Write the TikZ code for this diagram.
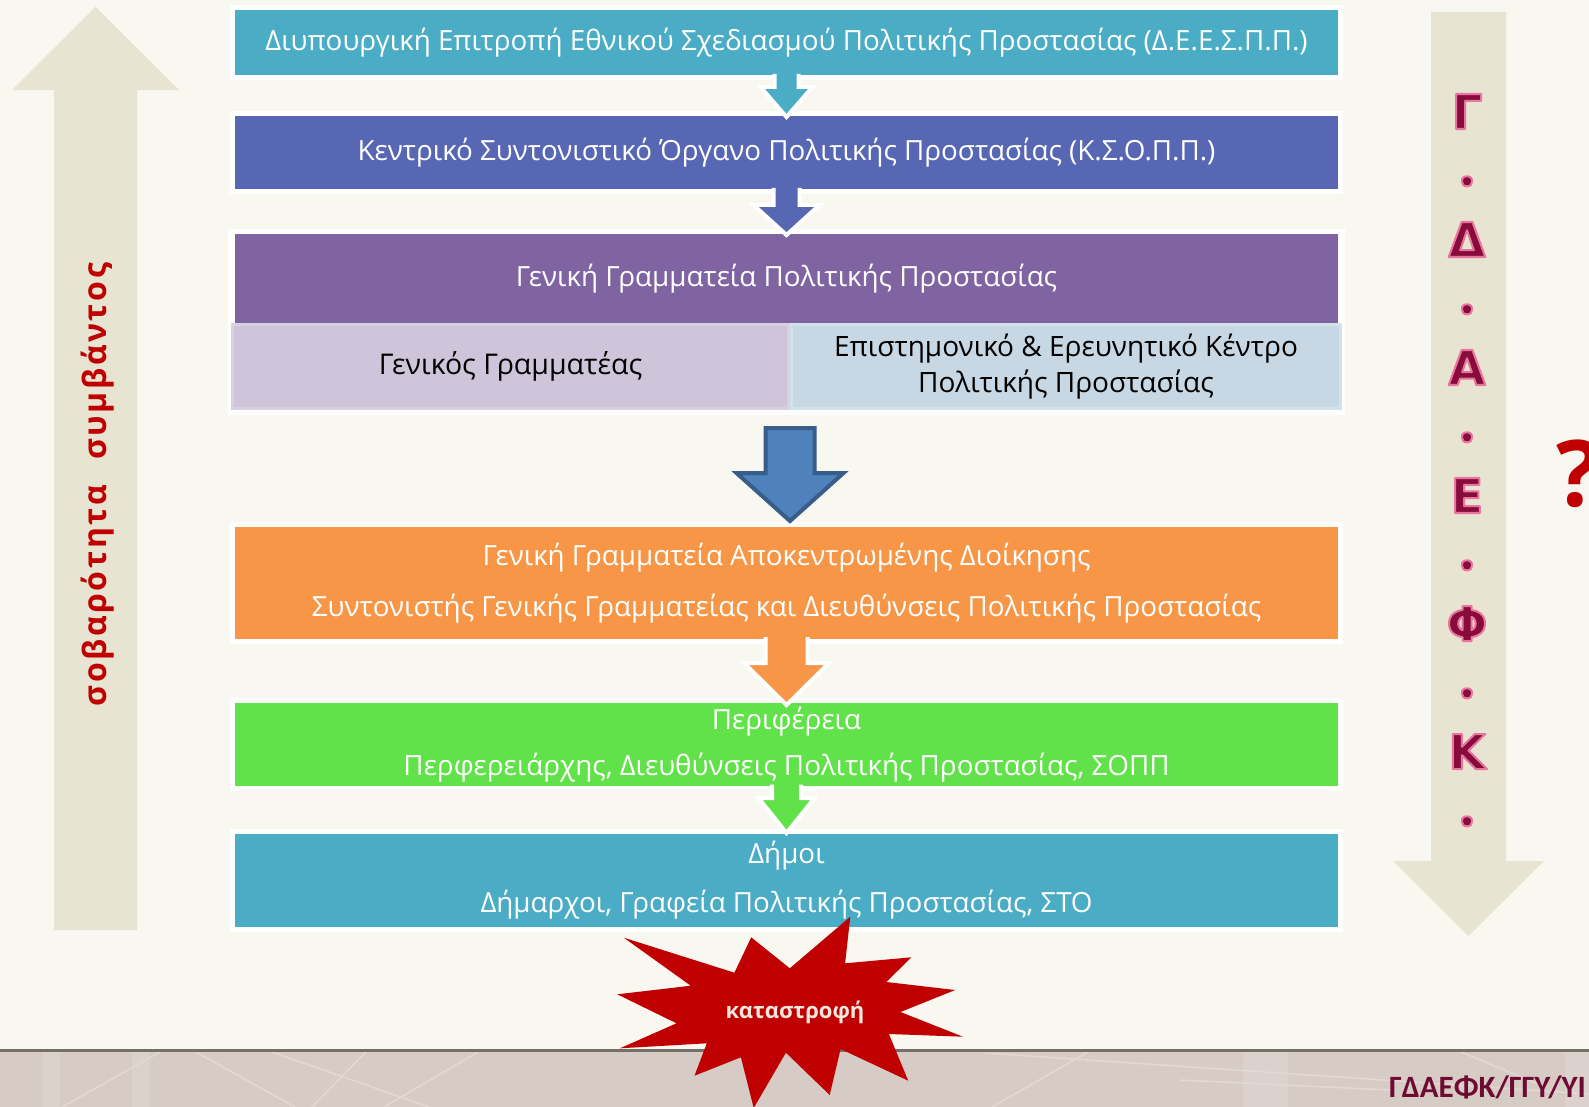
\documentclass[tikz,border=0pt]{standalone}
\usepackage{fontspec}
\setmainfont{Open Sans}
\newfontfamily\sevf{Open Sans}[LetterSpace=8.0]
\newfontfamily\carl{Carlito}
\newfontfamily\djv{DejaVu Sans}
\usetikzlibrary{calc}
\definecolor{bg}{HTML}{F8F7F0}
\definecolor{band}{HTML}{D7CBC6}
\definecolor{bandl}{HTML}{E2D9D5}
\definecolor{bandline}{HTML}{757067}
\definecolor{arrowc}{HTML}{E7E4D1}
\definecolor{sevred}{HTML}{C00000}
\definecolor{dm}{HTML}{870C3C}
\definecolor{c1}{HTML}{4BACC6}
\definecolor{c2}{HTML}{5867B4}
\definecolor{c3}{HTML}{8064A2}
\definecolor{s1c}{HTML}{CFC5DA}
\definecolor{s1d}{HTML}{D9D0E3}
\definecolor{s2c}{HTML}{C7D7E4}
\definecolor{s2d}{HTML}{D3E1EB}
\definecolor{c4}{HTML}{F79646}
\definecolor{c5}{HTML}{62E24A}
\definecolor{bigf}{HTML}{4F81BD}
\definecolor{bigd}{HTML}{385D8A}
\definecolor{katt}{HTML}{F5E6DE}
\definecolor{btext}{HTML}{6E0B33}
% outlined glyphs: dark fill, pink stroke
\newcommand{\outl}[1]{\special{pdf:literal direct 2 Tr 2 w 1 j 0.91 0.46 0.62 RG}#1\special{pdf:literal direct 0 Tr}}
\newcommand{\blkarr}[7]{%
  \fill[#6] let \p1=(#1), \p2=(#2) in
   (\x2-#3pt,\y1) -- (\x2-#3pt,\y2+#5pt) -- (\x2-#4pt,\y2+#5pt) -- (\x2,\y2) --
   (\x2+#4pt,\y2+#5pt) -- (\x2+#3pt,\y2+#5pt) -- (\x2+#3pt,\y1) -- cycle;
  \draw[#7] let \p1=(#1), \p2=(#2) in
   (\x2-#3pt,\y1) -- (\x2-#3pt,\y2+#5pt) -- (\x2-#4pt,\y2+#5pt) -- (\x2,\y2) --
   (\x2+#4pt,\y2+#5pt) -- (\x2+#3pt,\y2+#5pt) -- (\x2+#3pt,\y1);
}
\begin{document}
\begin{tikzpicture}[x=1pt,y=-1pt,
  mbox/.style={fill=#1, draw=white, line width=5pt, minimum width=1108pt,
    inner sep=0pt, outer sep=0pt, text=white, align=center},
  sbox/.style={line width=3pt, inner sep=0pt, outer sep=0pt, text=black,
    align=center, minimum height=84pt},
  wline/.style={draw=white, line width=4pt, line join=miter},
  bigtxt/.style={font=\fontsize{27.8}{32}\selectfont},
  letterA/.style={anchor=base, inner sep=0pt, text=dm,
    font=\djv\bfseries\fontsize{48}{48}\selectfont},
  dotA/.style={anchor=base, inner sep=0pt, text=dm,
    font=\bfseries\fontsize{60}{60}\selectfont}]
\useasboundingbox (0,0) rectangle (1589,1107);
\clip (0,0) rectangle (1589,1107);
\fill[bg] (0,0) rectangle (1589,1107);
% bottom band
\fill[band] (0,1051) rectangle (1589,1107);
\fill[bandl, opacity=0.5] (42,1051) rectangle (60,1107);
\fill[bandl, opacity=0.5] (132,1051) rectangle (150,1107);
\fill[bandl, opacity=0.5] (1243,1051) rectangle (1288,1107);
\fill[bandl, opacity=0.5] (1565,1051) rectangle (1589,1107);
\begin{scope}[bandl, line width=1.5pt]
\draw (160,1052) -- (62,1107);
\draw (196,1052) -- (295,1107);
\draw (272,1052) -- (429,1107);
\draw (366,1052) -- (312,1107);
\draw (478,1052) -- (384,1107);
\draw (985,1053) -- (1589,1094);
\draw (1088,1052) -- (992,1107);
\draw (1461,1052) -- (1545,1087);
\draw (1180,1080) -- (1390,1090);
\end{scope}
\draw[bandline, line width=2.5pt] (0,1050.5) -- (1589,1050.5);
% left up arrow
\fill[arrowc] (54,930) -- (54,90) -- (12,90) -- (95.5,7) -- (179,90) -- (137,90) -- (137,930) -- cycle;
\node[rotate=90, text=sevred, inner sep=0pt, font=\sevf\bfseries\fontsize{32}{32}\selectfont] (sev) at (97.5,484.5) {σοβαρότητα\hspace{14pt} συμβάντος};
% right down arrow
\fill[arrowc] (1431,12) -- (1506,12) -- (1506,861) -- (1544,861) -- (1468.5,936) -- (1393,861) -- (1431,861) -- cycle;
\foreach \ch/\yy [count=\i] in {Γ/129, Δ/257, Α/385, Ε/513, Φ/641, Κ/769}{
  \node[letterA] (L\i) at (1467,\yy) {\outl{\ch}};
}
\foreach \yy [count=\i] in {185.5, 313.5, 441.5, 569.5, 697.5, 825.5}{
  \node[dotA] (D\i) at (1467,\yy) {\outl{.}};
}
\node[anchor=base west, inner sep=0pt, text=sevred, font=\bfseries\fontsize{92}{92}\selectfont] (q) at (1556,506) {?};
% boxes
\node[mbox=c1, minimum height=70pt, bigtxt] (b1) at (786.5,42.5) {Διυπουργική Επιτροπή Εθνικού Σχεδιασμού Πολιτικής Προστασίας (Δ.Ε.Ε.Σ.Π.Π.)};
\node[mbox=c2, minimum height=78pt, bigtxt] (b2) at (786.5,152.5) {Κεντρικό Συντονιστικό Όργανο Πολιτικής Προστασίας (Κ.Σ.Ο.Π.Π.)};
\fill[white] (228,229) rectangle (1345,415);
\node[fill=c3, minimum width=1103pt, minimum height=89pt, inner sep=0pt, outer sep=0pt, text=white, bigtxt] (b3) at (786.5,278.5) {Γενική Γραμματεία Πολιτικής Προστασίας};
\node[sbox, fill=s1c, draw=s1d, minimum width=556pt, font=\fontsize{28.5}{36}\selectfont] (s1) at (510.5,366.5) {Γενικός Γραμματέας};
\node[sbox, fill=s2c, draw=s2d, minimum width=549pt, font=\fontsize{28}{36}\selectfont] (s2) at (1066,366.5) {Επιστημονικό \& Ερευνητικό Κέντρο\\Πολιτικής Προστασίας};
\node[mbox=c4, minimum height=117pt, font=\fontsize{27.8}{51}\selectfont] (b4) at (786.5,583) {Γενική Γραμματεία Αποκεντρωμένης Διοίκησης\\Συντονιστής Γενικής Γραμματείας και Διευθύνσεις Πολιτικής Προστασίας};
\node[mbox=c5, minimum height=88pt, font=\fontsize{27.8}{46}\selectfont] (b5) at (786.5,744.5) {Περιφέρεια\\Περφερειάρχης, Διευθύνσεις Πολιτικής Προστασίας, ΣΟΠΠ};
\node[mbox=c1, minimum height=98pt, font=\fontsize{27.8}{49}\selectfont] (b6) at (786.5,880.5) {Δήμοι\\Δήμαρχοι, Γραφεία Πολιτικής Προστασίας, ΣΤΟ};
% arrows
\blkarr{$(b1.south)+(0,-3.5)$}{$(b2.north)+(0,3.5)$}{12}{26}{30}{c1}{wline}
\blkarr{$(b2.south)+(0,-3.5)$}{$(b3.north)+(0,1)$}{13}{33}{30}{c2}{wline}
\blkarr{$(b4.south)+(0,-4.5)$}{$(b5.north)+(0,4.5)$}{21}{42.5}{42}{c4}{wline}
\blkarr{$(b5.south)+(0,-4)$}{$(b6.north)+(0,1.5)$}{14.5}{28}{35}{c5}{wline}
\path[fill=bigf, draw=bigd, line width=4pt, line join=miter]
  let \p1=($(s1.south)+(0,19.5)$), \p2=($(b4.north)+(3.5,-3.5)$) in
  (\x2-24.5pt,\y1) -- (\x2-24.5pt,\y2+48pt) -- (\x2-53.5pt,\y2+48pt) -- (\x2,\y2) --
  (\x2+53.5pt,\y2+48pt) -- (\x2+24.5pt,\y2+48pt) -- (\x2+24.5pt,\y1) -- cycle;
% starburst
\fill[sevred] (850.3,916.7) -- (845.1,963.3) -- (911.4,957.3) -- (886.3,982) --
  (955.2,990) -- (900.5,1012) -- (962.9,1036.7) -- (888.9,1034) -- (908.2,1080.7) --
  (840.6,1049) -- (829.7,1095) -- (785.9,1052.7) -- (753.7,1108) -- (740.9,1057.3) --
  (694.5,1075.7) -- (706.8,1043.3) -- (619.9,1048.3) -- (676.5,1023.3) -- (617.3,994.3) --
  (690.7,985.7) -- (623.8,937.7) -- (734.4,972.7) -- (751.2,937.3) -- (789.8,968.3) -- cycle;
\node[text=katt, inner sep=0pt, font=\bfseries\fontsize{22}{22}\selectfont] (kat) at (795,1012) {καταστροφή};
\node[anchor=base west, inner sep=0pt, text=btext, font=\carl\bfseries\fontsize{31}{31}\selectfont] (foot) at (1389,1097) {ΓΔΑΕΦΚ/ΓΓΥ/ΥΙ};
\end{tikzpicture}
\end{document}
